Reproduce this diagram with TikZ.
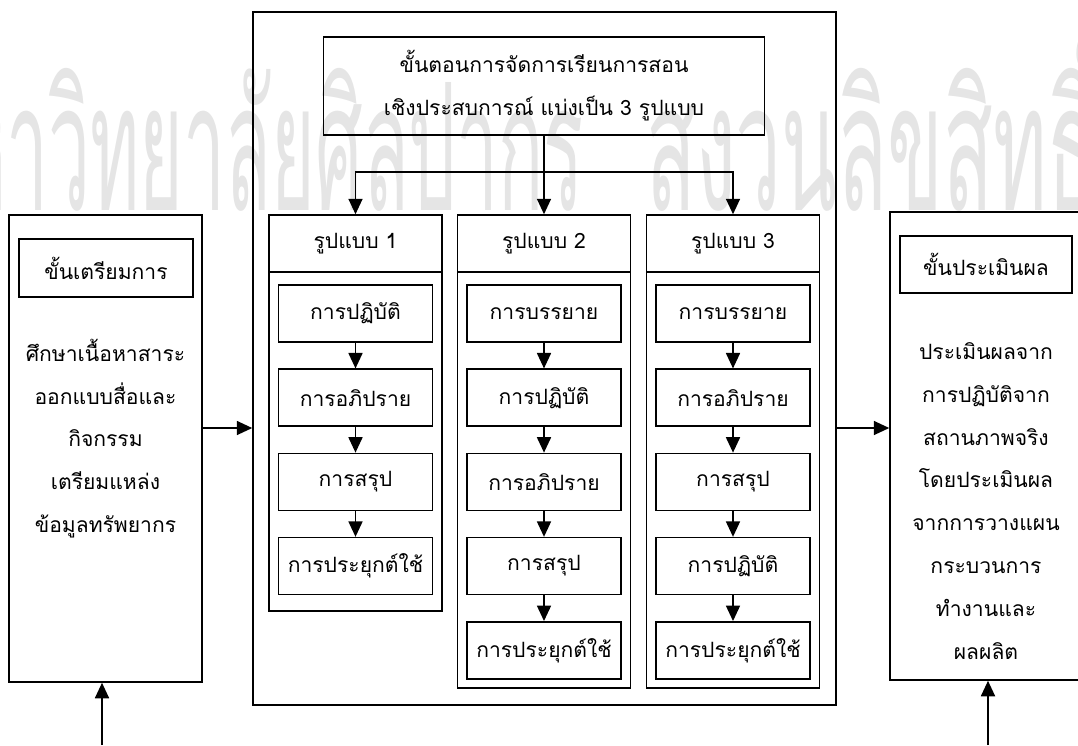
\documentclass[tikz,border=0pt]{standalone}
\usepackage{fontspec}
\usepackage{graphicx}
\usetikzlibrary{arrows.meta, positioning}
\newfontfamily\thai[Script=Thai]{Loma}
\newlength\px
\setlength\px{0.025cm}

\tikzset{
  box/.style={draw, line width=1.1pt, inner sep=0pt, align=center},
  colbox/.style={box, minimum width=173\px},
  headbox/.style={box, minimum width=173\px, minimum height=57\px},
  stepbox/.style={box, minimum width=154\px, minimum height=57\px},
  arr/.style={-{Triangle[length=11pt, width=10pt]}, line width=1.1pt},
  wmark/.style={inner sep=0pt, text=gray!20},
}

\begin{document}
\begin{tikzpicture}[
    x=1\px, y=-1\px,
    font=\thai\fontsize{15}{30.5}\selectfont,
  ]

  \useasboundingbox (0,0) rectangle (1078,745);

  % --- watermark ---
  \begin{scope}
    \clip (0,0) rectangle (1078,745);
    \node[wmark, anchor=base east] (wm1) at (584,210)
      {\scalebox{0.76}[1.8]{\fontsize{70}{70}\selectfont มหาวิทยาลัยศิลปากร}};
    \node[wmark, anchor=base west] (wm2) at (646,210)
      {\scalebox{0.83}[1.8]{\fontsize{70}{70}\selectfont สงวนลิขสิทธิ์}};
  \end{scope}

  % === Main block ===
  \node[box, minimum width=583\px, minimum height=693\px] (main) at (544.5,358.5) {};
  \node[box, minimum width=441\px, minimum height=98\px] (title) at (544,86)
    {ขั้นตอนการจัดการเรียนการสอน\\เชิงประสบการณ์ แบ่งเป็น 3 รูปแบบ};

  % columns
  \node[colbox, minimum height=396\px] (col1) at (355.5,413) {};
  \node[colbox, minimum height=473\px] (col2) at (544,451.5) {};
  \node[colbox, minimum height=473\px] (col3) at (733,451.5) {};
  \node[headbox] (hd1) at (355.5,243.5) {รูปแบบ 1};
  \node[headbox] (hd2) at (544,243.5) {รูปแบบ 2};
  \node[headbox] (hd3) at (733,243.5) {รูปแบบ 3};

  % steps of each column
  \foreach \t [count=\i] in {การปฏิบัติ, การอภิปราย, การสรุป, การประยุกต์ใช้}
    \node[stepbox] (a\i) at (355.5,{313.5+84.2*(\i-1)}) {\t};
  \foreach \t [count=\i] in {การบรรยาย, การปฏิบัติ, การอภิปราย, การสรุป, การประยุกต์ใช้}
    \node[stepbox] (b\i) at (544,{313.5+84.2*(\i-1)}) {\t};
  \foreach \t [count=\i] in {การบรรยาย, การอภิปราย, การสรุป, การปฏิบัติ, การประยุกต์ใช้}
    \node[stepbox] (c\i) at (733,{313.5+84.2*(\i-1)}) {\t};

  \foreach \i/\j in {1/2, 2/3, 3/4}
    \draw[arr] (a\i) -- (a\j);
  \foreach \i/\j in {1/2, 2/3, 3/4, 4/5} {
    \draw[arr] (b\i) -- (b\j);
    \draw[arr] (c\i) -- (c\j);
  }

  % title -> columns
  \coordinate (bus) at (0,172);
  \draw[arr] (title.south) -- (hd2.north);
  \draw[arr] (hd2.north |- bus) -| (hd1.north);
  \draw[arr] (hd2.north |- bus) -| (hd3.north);

  % === Left: preparation ===
  \node[box, minimum width=193\px, minimum height=467\px] (prep) at (105.5,448.5) {};
  \node[box, minimum width=174\px, minimum height=58\px] (prephd) at (106,268) {ขั้นเตรียมการ};
  \node[align=center] (preptxt) at (105.5,438.5)
    {ศึกษาเนื้อหาสาระ\\ออกแบบสื่อและ\\กิจกรรม\\เตรียมแหล่ง\\ข้อมูลทรัพยากร};

  % === Right: evaluation ===
  \node[box, minimum width=192\px, minimum height=468\px] (eval) at (986,446) {};
  \node[box, minimum width=172\px, minimum height=57\px] (evalhd) at (986,264.5) {ขั้นประเมินผล};
  \node[align=center] (evaltxt) at (986,501)
    {ประเมินผลจาก\\การปฏิบัติจาก\\สถานภาพจริง\\โดยประเมินผล\\จากการวางแผน\\กระบวนการ\\ทำงานและ\\ผลผลิต};

  % flow arrows
  \coordinate (midy) at (0,428);
  \draw[arr] (prep.east |- midy) -- (main.west |- midy);
  \draw[arr] (main.east |- midy) -- (eval.west |- midy);

  \coordinate (inL) at (102,745);
  \coordinate (inR) at (988,745);
  \draw[arr] (inL) -- (inL |- prep.south);
  \draw[arr] (inR) -- (inR |- eval.south);

\end{tikzpicture}
\end{document}
